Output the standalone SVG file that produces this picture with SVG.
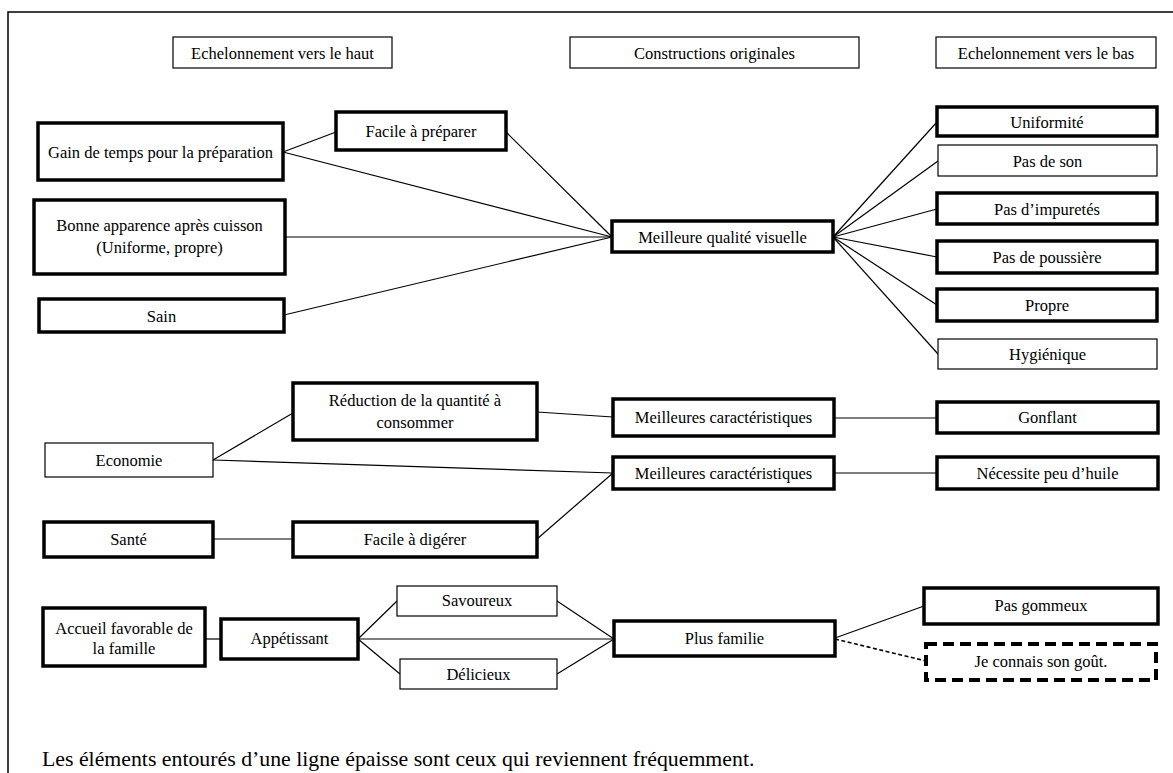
<svg xmlns="http://www.w3.org/2000/svg" width="1173" height="773" viewBox="0 0 1173 773">
<style>
text{font-family:"Liberation Serif","Times New Roman",serif;font-size:16.5px;fill:#000;text-anchor:middle}
.thin{fill:#fff;stroke:#000;stroke-width:1.2}
.thick{fill:#fff;stroke:#000;stroke-width:3.5}
.dash{fill:#fff;stroke:#000;stroke-width:4;stroke-dasharray:11 6}
#connectors line{stroke:#000;stroke-width:1.2}
#connectors .dl{stroke-dasharray:4 2.5;stroke-width:1.6}
.cap{font-size:21.8px;text-anchor:start}
</style>
<rect width="1173" height="773" fill="#fff"/>
<path d="M8,790 V12 H1185" fill="none" stroke="#000" stroke-width="1.5"/>
<g id="connectors">
<line x1="283" y1="152" x2="336" y2="132"/>
<line x1="283" y1="152" x2="612" y2="237"/>
<line x1="506" y1="132" x2="612" y2="237"/>
<line x1="285" y1="237" x2="612" y2="237"/>
<line x1="284" y1="315" x2="612" y2="237"/>
<line x1="833" y1="237" x2="937" y2="122"/>
<line x1="833" y1="237" x2="938" y2="161"/>
<line x1="833" y1="237" x2="937" y2="209"/>
<line x1="833" y1="237" x2="937" y2="257"/>
<line x1="833" y1="237" x2="937" y2="305"/>
<line x1="833" y1="237" x2="938" y2="354"/>
<line x1="213" y1="460" x2="293" y2="413"/>
<line x1="537" y1="412" x2="613" y2="417"/>
<line x1="834" y1="418" x2="937" y2="418"/>
<line x1="213" y1="460" x2="613" y2="473"/>
<line x1="834" y1="473" x2="937" y2="473"/>
<line x1="213" y1="539" x2="293" y2="539"/>
<line x1="537" y1="539" x2="613" y2="473"/>
<line x1="205" y1="639" x2="221" y2="639"/>
<line x1="358" y1="639" x2="397" y2="601"/>
<line x1="358" y1="639" x2="400" y2="674"/>
<line x1="358" y1="639" x2="614" y2="639"/>
<line x1="557" y1="601" x2="614" y2="639"/>
<line x1="557" y1="674" x2="614" y2="639"/>
<line x1="835" y1="638" x2="924" y2="606"/>
<line class="dl" x1="835" y1="639" x2="926" y2="661"/>
</g>
<g id="h1"><rect class="thin" x="173" y="37" width="219" height="31"/><text x="282.5" y="58.5">Echelonnement vers le haut</text></g>
<g id="h2"><rect class="thin" x="570" y="37" width="289" height="31"/><text x="714.5" y="58.5">Constructions originales</text></g>
<g id="h3"><rect class="thin" x="936" y="37" width="220" height="31"/><text x="1046" y="58.5">Echelonnement vers le bas</text></g>
<g id="gain"><rect class="thick" x="38" y="123" width="245" height="57"/><text x="160.5" y="158">Gain de temps pour la préparation</text></g>
<g id="bonne"><rect class="thick" x="34" y="200" width="251" height="74"/><text x="159.5" y="231">Bonne apparence après cuisson</text><text x="159.5" y="253">(Uniforme, propre)</text></g>
<g id="sain"><rect class="thick" x="39" y="299" width="245" height="33"/><text x="161.5" y="321.5">Sain</text></g>
<g id="facile-preparer"><rect class="thick" x="336" y="112" width="170" height="38"/><text x="421" y="137">Facile à préparer</text></g>
<g id="mqv"><rect class="thick" x="612" y="221" width="221" height="31"/><text x="722.5" y="243">Meilleure qualité visuelle</text></g>
<g id="uniformite"><rect class="thick" x="937" y="107" width="220" height="29"/><text x="1047" y="128">Uniformité</text></g>
<g id="pas-son"><rect class="thin" x="938" y="145" width="219" height="31"/><text x="1047.5" y="167">Pas de son</text></g>
<g id="impuretes"><rect class="thick" x="937" y="193" width="220" height="31"/><text x="1047" y="215">Pas d’impuretés</text></g>
<g id="poussiere"><rect class="thick" x="937" y="241" width="220" height="32"/><text x="1047" y="263">Pas de poussière</text></g>
<g id="propre"><rect class="thick" x="937" y="289" width="220" height="32"/><text x="1047" y="311">Propre</text></g>
<g id="hygienique"><rect class="thin" x="938" y="339" width="219" height="30"/><text x="1047.5" y="360">Hygiénique</text></g>
<g id="reduction"><rect class="thick" x="293" y="383" width="244" height="57"/><text x="415" y="406">Réduction de la quantité à</text><text x="415" y="428">consommer</text></g>
<g id="economie"><rect class="thin" x="45" y="443" width="168" height="34"/><text x="129" y="466">Economie</text></g>
<g id="mc1"><rect class="thick" x="613" y="399" width="221" height="37"/><text x="723.5" y="423">Meilleures caractéristiques</text></g>
<g id="gonflant"><rect class="thick" x="937" y="402" width="221" height="31"/><text x="1047.5" y="423">Gonflant</text></g>
<g id="mc2"><rect class="thick" x="613" y="457" width="221" height="32"/><text x="723.5" y="479">Meilleures caractéristiques</text></g>
<g id="huile"><rect class="thick" x="937" y="457" width="221" height="32"/><text x="1047.5" y="479">Nécessite peu d’huile</text></g>
<g id="sante"><rect class="thick" x="44" y="522" width="169" height="35"/><text x="128.5" y="545">Santé</text></g>
<g id="digerer"><rect class="thick" x="293" y="522" width="244" height="35"/><text x="415" y="545">Facile à digérer</text></g>
<g id="savoureux"><rect class="thin" x="397" y="586" width="160" height="30"/><text x="477" y="606">Savoureux</text></g>
<g id="accueil"><rect class="thick" x="43" y="608" width="162" height="58"/><text x="124" y="634">Accueil favorable de</text><text x="124" y="654">la famille</text></g>
<g id="appetissant"><rect class="thick" x="221" y="619" width="137" height="40"/><text x="289.5" y="644">Appétissant</text></g>
<g id="delicieux"><rect class="thin" x="400" y="659" width="157" height="30"/><text x="478.5" y="680">Délicieux</text></g>
<g id="plus-familie"><rect class="thick" x="614" y="621" width="221" height="35"/><text x="724.5" y="644">Plus familie</text></g>
<g id="gommeux"><rect class="thick" x="924" y="588" width="234" height="36"/><text x="1041" y="611">Pas gommeux</text></g>
<g id="gout"><rect class="dash" x="926" y="644" width="230" height="36"/><text x="1041" y="667">Je connais son goût.</text></g>
<text class="cap" x="42" y="766">Les éléments entourés d’une ligne épaisse sont ceux qui reviennent fréquemment.</text>
</svg>
